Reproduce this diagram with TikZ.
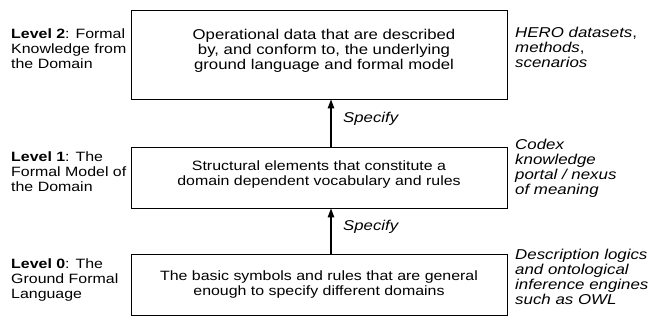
\documentclass[tikz,border=0pt]{standalone}
\usepackage{fontspec}
\setmainfont{Liberation Sans}[FakeStretch=1.18]
\usetikzlibrary{arrows.meta}

\tikzset{
  layerbox/.style={draw, line width=0.9pt, minimum width=376pt, inner sep=0pt},
  boxtext/.style={anchor=north, align=center, inner sep=0pt,
    font=\fontsize{13.5}{15}\selectfont},
  bigboxtext/.style={boxtext, font=\fontsize{14.2}{15}\selectfont},
  leveltext/.style={anchor=north west, align=left, inner sep=0pt,
    font=\fontsize{13.5}{15}\selectfont},
  exampletext/.style={anchor=north west, align=left, inner sep=0pt,
    font=\fontsize{14.3}{14.8}\selectfont\itshape},
  specifytext/.style={anchor=base west, inner sep=0pt,
    font=\fontsize{14.2}{15}\selectfont\itshape},
  specifyarrow/.style={line width=1.3pt, -{Triangle[width=6.5pt,length=9pt]}}
}

\begin{document}
\begin{tikzpicture}[x=1pt, y=1pt]
  \useasboundingbox (0,0) rectangle (650,321);

  % the three layers
  \node[layerbox, minimum height=89pt] (b2) at (319,266.5) {};
  \node[layerbox, minimum height=61pt] (b1) at (319,143.5) {};
  \node[layerbox, minimum height=61pt] (b0) at (319,36.5) {};

  % layer contents
  \node[bigboxtext] (t2) at (324,292.5)
    {\strut Operational data that are described\\by, and conform to, the underlying\\ground language and formal model};
  \node[boxtext] (t1) at (319,161)
    {\strut Structural elements that constitute a\\domain dependent vocabulary and rules};
  \node[boxtext] (t0) at (319,51)
    {\strut The basic symbols and rules that are general\\enough to specify different domains};

  % level names on the left
  \node[leveltext] (l2) at (11,293.5)
    {\strut\textbf{Level 2}: Formal\\Knowledge from\\the Domain};
  \node[leveltext] (l1) at (11,170.5)
    {\strut\textbf{Level 1}: The\\Formal Model of\\the Domain};
  \node[leveltext] (l0) at (11,63.5)
    {\strut\textbf{Level 0}: The\\Ground Formal\\Language};

  % examples on the right
  \node[exampletext] (e2) at (515,294.5)
    {\strut HERO datasets\textup{,}\\methods\textup{,}\\scenarios};
  \node[exampletext] (e1) at (515,182.5)
    {\strut Codex\\knowledge\\portal / nexus\\of meaning};
  \node[exampletext] (e0) at (515,72.5)
    {\strut Description logics\\and ontological\\inference engines\\such as OWL};

  % specification arrows
  \coordinate (ax) at (331,0);
  \draw[specifyarrow] (b1.north -| ax) -- (b2.south -| ax);
  \draw[specifyarrow] (b0.north -| ax) -- (b1.south -| ax);
  \node[specifytext] (s2) at (343,198) {Specify};
  \node[specifytext] (s1) at (343,90) {Specify};
\end{tikzpicture}
\end{document}
